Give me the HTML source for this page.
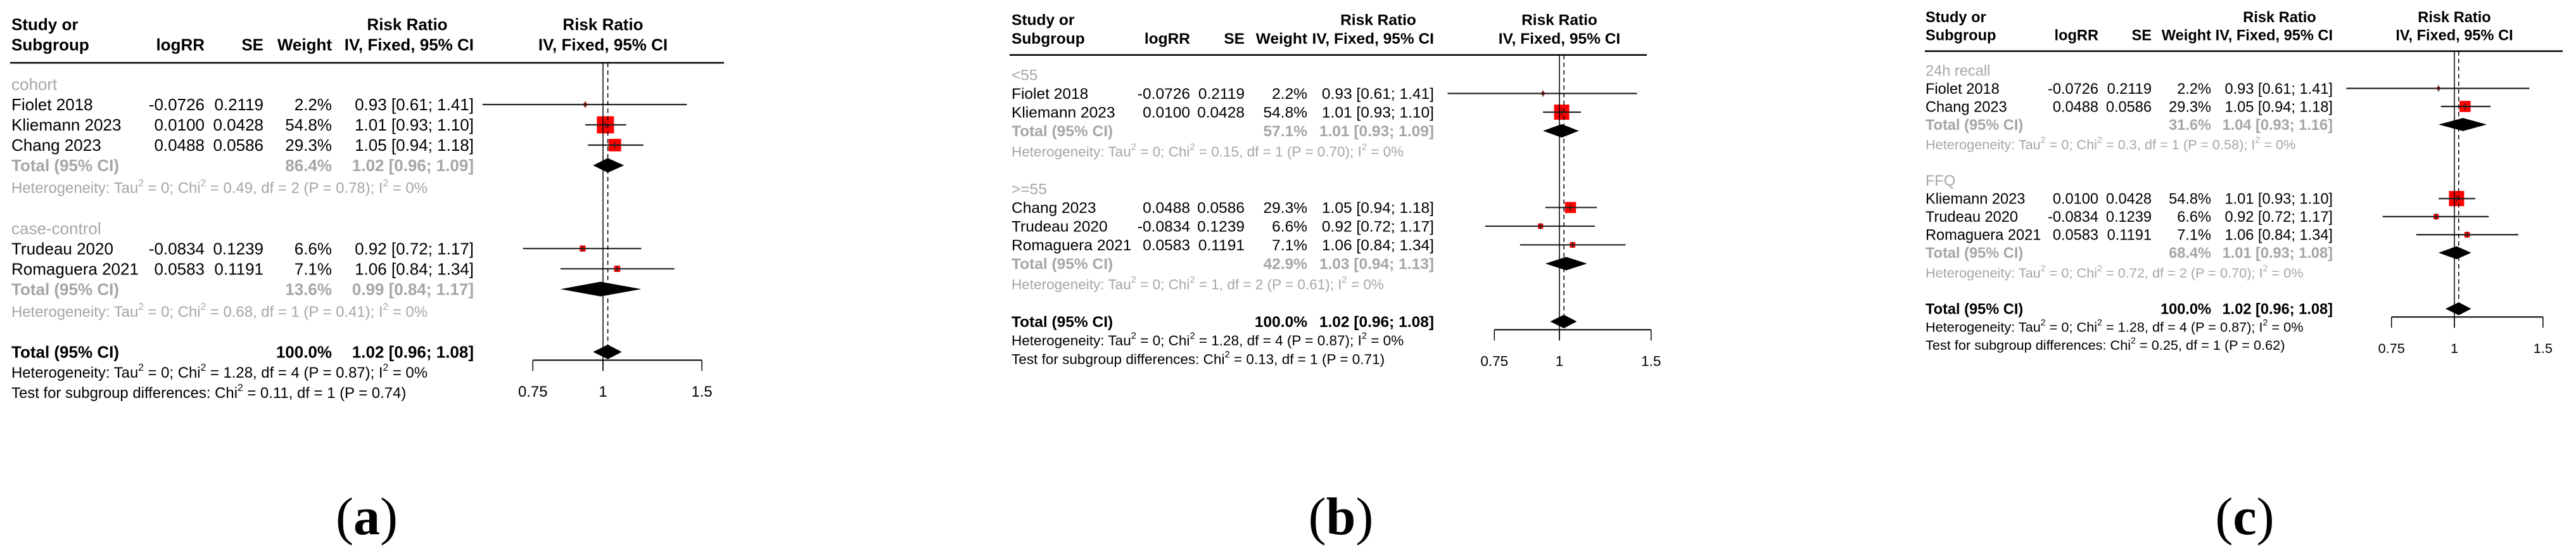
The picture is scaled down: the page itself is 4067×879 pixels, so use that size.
<!DOCTYPE html>
<html><head><meta charset="utf-8">
<style>
html,body{margin:0;padding:0;background:#fff;}
svg{display:block;}
text{font-family:"Liberation Sans",Arial,sans-serif;}
</style></head>
<body>
<svg id="fig" width="4067" height="879" viewBox="0 0 4067 879" xmlns="http://www.w3.org/2000/svg"></svg>
<script>
// ---- data ----
const studyNames = ['Fiolet 2018','Kliemann 2023','Chang 2023','Trudeau 2020','Romaguera 2021'];
const logRR = [-0.0726, 0.0100, 0.0488, -0.0834, 0.0583];
const seVals = [0.2119, 0.0428, 0.0586, 0.1239, 0.1191];
const weights = [2.2, 54.8, 29.3, 6.6, 7.1];
const rrVals = [0.93, 1.01, 1.05, 0.92, 1.06];
const ciLow = [0.61, 0.93, 0.94, 0.72, 0.84];
const ciHigh = [1.41, 1.10, 1.18, 1.17, 1.34];
const overallRR = 1.02, overallLow = 0.96, overallHigh = 1.08;
const overallHet = ['1.28', '4', '0.87'];
const tickValues = [0.75, 1, 1.5];
const tickLabels = ['0.75', '1', '1.5'];

const groupLabelsA = ['cohort', 'case-control'];
const groupMembersA = [[0,1,2],[3,4]];
const subWeightA = [86.4, 13.6];
const subRRA = [1.02, 0.99];
const subLowA = [0.96, 0.84];
const subHighA = [1.09, 1.17];
const subChiA = ['0.49', '0.68'];
const subDfA = ['2', '1'];
const subPA = ['0.78', '0.41'];
const testA = ['0.11', '0.74'];

const groupLabelsB = ['<55', '>=55'];
const groupMembersB = [[0,1],[2,3,4]];
const subWeightB = [57.1, 42.9];
const subRRB = [1.01, 1.03];
const subLowB = [0.93, 0.94];
const subHighB = [1.09, 1.13];
const subChiB = ['0.15', '1'];
const subDfB = ['1', '2'];
const subPB = ['0.70', '0.61'];
const testB = ['0.13', '0.71'];

const groupLabelsC = ['24h recall', 'FFQ'];
const groupMembersC = [[0,2],[1,3,4]];
const subWeightC = [31.6, 68.4];
const subRRC = [1.04, 1.01];
const subLowC = [0.93, 0.93];
const subHighC = [1.16, 1.08];
const subChiC = ['0.3', '0.72'];
const subDfC = ['1', '2'];
const subPC = ['0.58', '0.70'];
const testC = ['0.25', '0.62'];

// ---- layout (not data) ----
const layouts = [
 {id:'a', xL:18, lineL:16, lineR:1143, cLog:323, cSE:416, cW:524, cCI:748, rrHead:643, x1:952, ppl:385, fs:26, s:32, y0:133, sq:27, lab:579},
 {id:'b', xL:1597, lineL:1594, lineR:2600, cLog:1879, cSE:1965, cW:2064, cCI:2264, rrHead:2176, x1:2462, ppl:357, fs:24.5, s:29.5, y0:118, sq:24, lab:2117},
 {id:'c', xL:3040, lineL:3039, lineR:4046, cLog:3313, cSE:3397, cW:3491, cCI:3683, rrHead:3599, x1:3875, ppl:345, fs:23.6, s:28.5, y0:111, sq:24, lab:3544}
];
const panelData = [
 {labels:groupLabelsA, members:groupMembersA, w:subWeightA, rr:subRRA, lo:subLowA, hi:subHighA, chi:subChiA, df:subDfA, p:subPA, test:testA},
 {labels:groupLabelsB, members:groupMembersB, w:subWeightB, rr:subRRB, lo:subLowB, hi:subHighB, chi:subChiB, df:subDfB, p:subPB, test:testB},
 {labels:groupLabelsC, members:groupMembersC, w:subWeightC, rr:subRRC, lo:subLowC, hi:subHighC, chi:subChiC, df:subDfC, p:subPC, test:testC}
];

const NS = 'http://www.w3.org/2000/svg';
const svg = document.getElementById('fig');
const GRAY = '#a6a6a6';

function el(tag, attrs, name) {
  const e = document.createElementNS(NS, tag);
  for (const k in attrs) e.setAttribute(k, attrs[k]);
  
  
  svg.appendChild(e);
  return e;
}
function txt(x, y, str, fs, anchor, weight, fill, name) {
  const t = el('text', {x:x, y:y + fs*0.35, 'font-size':fs, 'text-anchor':anchor, 'font-weight':weight, fill:fill}, name);
  t.textContent = str;
  return t;
}
function supText(x, y, parts, fs, fill, name) {
  const t = el('text', {x:x, y:y + fs*0.35, 'font-size':fs, fill:fill}, name);
  parts.forEach((p, i) => {
    const ts = document.createElementNS(NS, 'tspan');
    if (i % 2 === 1) { ts.setAttribute('dy', -fs*0.45); ts.setAttribute('font-size', fs*0.65); }
    else if (i > 0) { ts.setAttribute('dy', fs*0.45); }
    ts.textContent = p;
    t.appendChild(ts);
  });
  return t;
}
function fmtCI(r, l, h) { return r.toFixed(2) + ' [' + l.toFixed(2) + '; ' + h.toFixed(2) + ']'; }
function hetParts(chi, df, p) { return ['Heterogeneity: Tau', '2', ' = 0; Chi', '2', ' = ' + chi + ', df = ' + df + ' (P = ' + p + '); I', '2', ' = 0%']; }

layouts.forEach((L, pi) => {
  const D = panelData[pi];
  const X = v => L.x1 + Math.log(v) * L.ppl;
  const fs = L.fs, s = L.s, hfs = fs * 0.92;
  const lineY = L.y0 - s * 1.06;
  const subY = lineY - s * 0.9;
  const studyY = subY - s;
  txt(L.xL, studyY, 'Study or', fs, 'start', 'bold', '#000', 'header-study-or');
  txt(L.xL, subY, 'Subgroup', fs, 'start', 'bold', '#000', 'header-subgroup');
  txt(L.cLog, subY, 'logRR', fs, 'end', 'bold', '#000', 'header-logrr');
  txt(L.cSE, subY, 'SE', fs, 'end', 'bold', '#000', 'header-se');
  txt(L.cW, subY, 'Weight', fs, 'end', 'bold', '#000', 'header-weight');
  txt(L.rrHead, studyY, 'Risk Ratio', fs, 'middle', 'bold', '#000', 'header-risk-ratio');
  txt(L.cCI, subY, 'IV, Fixed, 95% CI', fs, 'end', 'bold', '#000', 'header-iv-fixed');
  txt(L.x1, studyY, 'Risk Ratio', fs, 'middle', 'bold', '#000', 'plot-header-risk-ratio');
  txt(L.x1, subY, 'IV, Fixed, 95% CI', fs, 'middle', 'bold', '#000', 'plot-header-iv-fixed');
  el('line', {x1:L.lineL, x2:L.lineR, y1:lineY, y2:lineY, stroke:'#000', 'stroke-width':2.5}, 'header-rule');

  let y = L.y0;
  D.labels.forEach((g, gi) => {
    txt(L.xL, y, g, fs, 'start', 'normal', GRAY, 'subgroup-label');
    D.members[gi].forEach(k => {
      y += s;
      txt(L.xL, y, studyNames[k], fs, 'start', 'normal', '#000', 'study-name');
      txt(L.cLog, y, logRR[k].toFixed(4), fs, 'end', 'normal', '#000', 'study-logrr');
      txt(L.cSE, y, seVals[k].toFixed(4), fs, 'end', 'normal', '#000', 'study-se');
      txt(L.cW, y, weights[k].toFixed(1) + '%', fs, 'end', 'normal', '#000', 'study-weight');
      txt(L.cCI, y, fmtCI(rrVals[k], ciLow[k], ciHigh[k]), fs, 'end', 'normal', '#000', 'study-ci');
      const side = Math.max(5, L.sq * Math.sqrt(weights[k] / 54.8));
      const cx = X(rrVals[k]);
      el('rect', {x:cx - side/2, y:y - side/2, width:side, height:side, fill:'#ff0000'}, 'study-square');
      el('line', {x1:X(ciLow[k]), x2:X(ciHigh[k]), y1:y, y2:y, stroke:'#222', 'stroke-width':2.2}, 'study-ci-line');
      el('line', {x1:cx, x2:cx, y1:y - 5, y2:y + 5, stroke:'#222', 'stroke-width':1.5}, 'study-point-tick');
    });
    y += s;
    txt(L.xL, y, 'Total (95% CI)', fs, 'start', 'bold', GRAY, 'subgroup-total-label');
    txt(L.cW, y, D.w[gi].toFixed(1) + '%', fs, 'end', 'bold', GRAY, 'subgroup-total-weight');
    txt(L.cCI, y, fmtCI(D.rr[gi], D.lo[gi], D.hi[gi]), fs, 'end', 'bold', GRAY, 'subgroup-total-ci');
    const h = s * 0.36;
    el('polygon', {points:[X(D.lo[gi]) + ',' + y, X(D.rr[gi]) + ',' + (y - h), X(D.hi[gi]) + ',' + y, X(D.rr[gi]) + ',' + (y + h)].join(' '), fill:'#000'}, 'subgroup-diamond');
    y += s * 1.1;
    supText(L.xL, y, hetParts(D.chi[gi], D.df[gi], D.p[gi]), hfs, GRAY, 'subgroup-heterogeneity');
    y += s * 2;
  });
  txt(L.xL, y, 'Total (95% CI)', fs, 'start', 'bold', '#000', 'overall-total-label');
  txt(L.cW, y, '100.0%', fs, 'end', 'bold', '#000', 'overall-total-weight');
  txt(L.cCI, y, fmtCI(overallRR, overallLow, overallHigh), fs, 'end', 'bold', '#000', 'overall-total-ci');
  const h = s * 0.36;
  el('polygon', {points:[X(overallLow) + ',' + y, X(overallRR) + ',' + (y - h), X(overallHigh) + ',' + y, X(overallRR) + ',' + (y + h)].join(' '), fill:'#000'}, 'overall-diamond');
  const overallY = y;
  y += s;
  supText(L.xL, y, hetParts(overallHet[0], overallHet[1], overallHet[2]), hfs, '#000', 'overall-heterogeneity');
  y += s;
  supText(L.xL, y, ['Test for subgroup differences: Chi', '2', ' = ' + D.test[0] + ', df = 1 (P = ' + D.test[1] + ')'], hfs, '#000', 'subgroup-difference-test');

  const axY = overallY + 13;
  el('line', {x1:L.x1, x2:L.x1, y1:lineY, y2:axY + 17, stroke:'#000', 'stroke-width':1.5}, 'null-effect-line');
  el('line', {x1:X(overallRR), x2:X(overallRR), y1:lineY, y2:overallY - h, stroke:'#000', 'stroke-width':1.5, 'stroke-dasharray':'7,5'}, 'pooled-effect-line');
  el('line', {x1:X(tickValues[0]), x2:X(tickValues[tickValues.length-1]), y1:axY, y2:axY, stroke:'#000', 'stroke-width':2}, 'x-axis');
  tickValues.forEach((v, i) => {
    el('line', {x1:X(v), x2:X(v), y1:axY, y2:axY + 17, stroke:'#000', 'stroke-width':1.5}, 'x-axis-tick');
    txt(X(v), axY + 49, tickLabels[i], hfs, 'middle', 'normal', '#000', 'x-axis-tick-label');
  });
  const pl = el('text', {x:L.lab, y:843, 'font-size':84, 'text-anchor':'middle', fill:'#000', style:'font-family:"Liberation Serif",serif'}, 'panel-label');
  const p1 = document.createElementNS(NS, 'tspan'); p1.textContent = '(';
  const p2 = document.createElementNS(NS, 'tspan'); p2.setAttribute('font-weight', 'bold'); p2.textContent = L.id;
  const p3 = document.createElementNS(NS, 'tspan'); p3.textContent = ')';
  pl.appendChild(p1); pl.appendChild(p2); pl.appendChild(p3);
});
</script>
</body></html>
